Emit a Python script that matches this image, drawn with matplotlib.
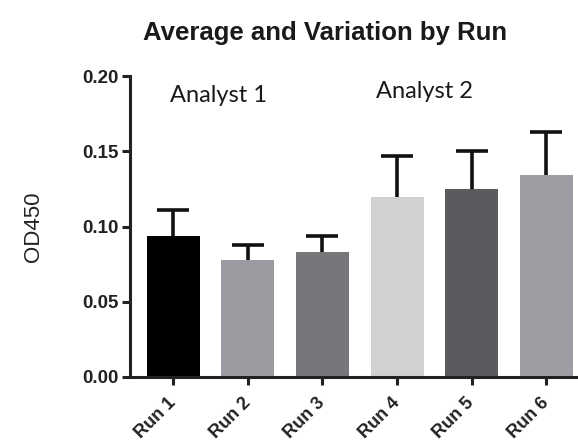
#!/usr/bin/env python3

"""
plot.py

Bar chart of average OD450 per run with upper error bars, grouped by analyst.
"""

import numpy as np
import matplotlib
matplotlib.use("Agg")
import matplotlib.pyplot as plt

# Data.
runs = ['Run 1', 'Run 2', 'Run 3', 'Run 4', 'Run 5', 'Run 6']
means = [0.094, 0.078, 0.083, 0.120, 0.125, 0.134]
errors = [0.017, 0.010, 0.011, 0.027, 0.025, 0.029]
y_ticks = [0.00, 0.05, 0.10, 0.15, 0.20]
bar_colors = ['#000000', '#9b9ca1', '#76777b', '#d0d1d3', '#5a5b5e', '#9d9ea3']
analysts = ['Analyst 1', 'Analyst 2']

# --- Create plot ---
fig = plt.figure(figsize=(5.78, 4.43), dpi=100)
ax = fig.add_axes([0.225, 0.149, 0.80, 0.679])

x = np.arange(len(runs))
tops = np.array(means) + np.array(errors)
ax.bar(x, means, width=0.71, color=bar_colors, zorder=2)
# Upper error bars only: stem from the mean up, cap at the top.
ax.errorbar(x, means, yerr=[np.zeros(len(errors)), errors], fmt='none',
            ecolor='#111111', elinewidth=2.6, capsize=0, zorder=1)
ax.plot(x, tops, linestyle='none', marker='_', markersize=23,
        markeredgewidth=2.6, color='#111111', zorder=3)

ax.set_xlim(-0.58, 5.62)
ax.set_ylim(0, 0.20)
ax.set_yticks(y_ticks)
ax.set_yticklabels([f"{v:.2f}" for v in y_ticks], fontsize=13.5, fontweight='bold',
                   family='Liberation Sans', color='#222222')
ax.set_xticks(x)
ax.set_xticklabels(runs, rotation=45, ha='right', va='center', rotation_mode='anchor',
                   fontsize=13, fontweight='bold', family='Liberation Sans', color='#222222')

# Axis styling (Prism-like).
for side in ['top', 'right']:
    ax.spines[side].set_visible(False)
for side in ['left', 'bottom']:
    ax.spines[side].set_linewidth(2.2)
    ax.spines[side].set_color('#222222')
ax.tick_params(axis='both', direction='out', length=6, width=2.2, color='#222222', pad=2)
ax.tick_params(axis='x', pad=11)

ax.set_ylabel("OD450", fontsize=16, family='Liberation Sans',
              color='#222222', labelpad=28)

# Title and analyst labels.
fig.text(0.562, 0.925, "Average and Variation by Run", ha='center', va='center',
         fontsize=18.5, fontweight='bold', family='Liberation Sans', color='#1a1a1a')
ax.text(0.60, 0.187, analysts[0], ha='center', va='center', fontsize=17,
        family='Lato', color='#1a1a1a')
ax.text(3.37, 0.190, analysts[1], ha='center', va='center', fontsize=17,
        family='Lato', color='#1a1a1a')

plt.savefig("out.png", dpi=100)
plt.close()
